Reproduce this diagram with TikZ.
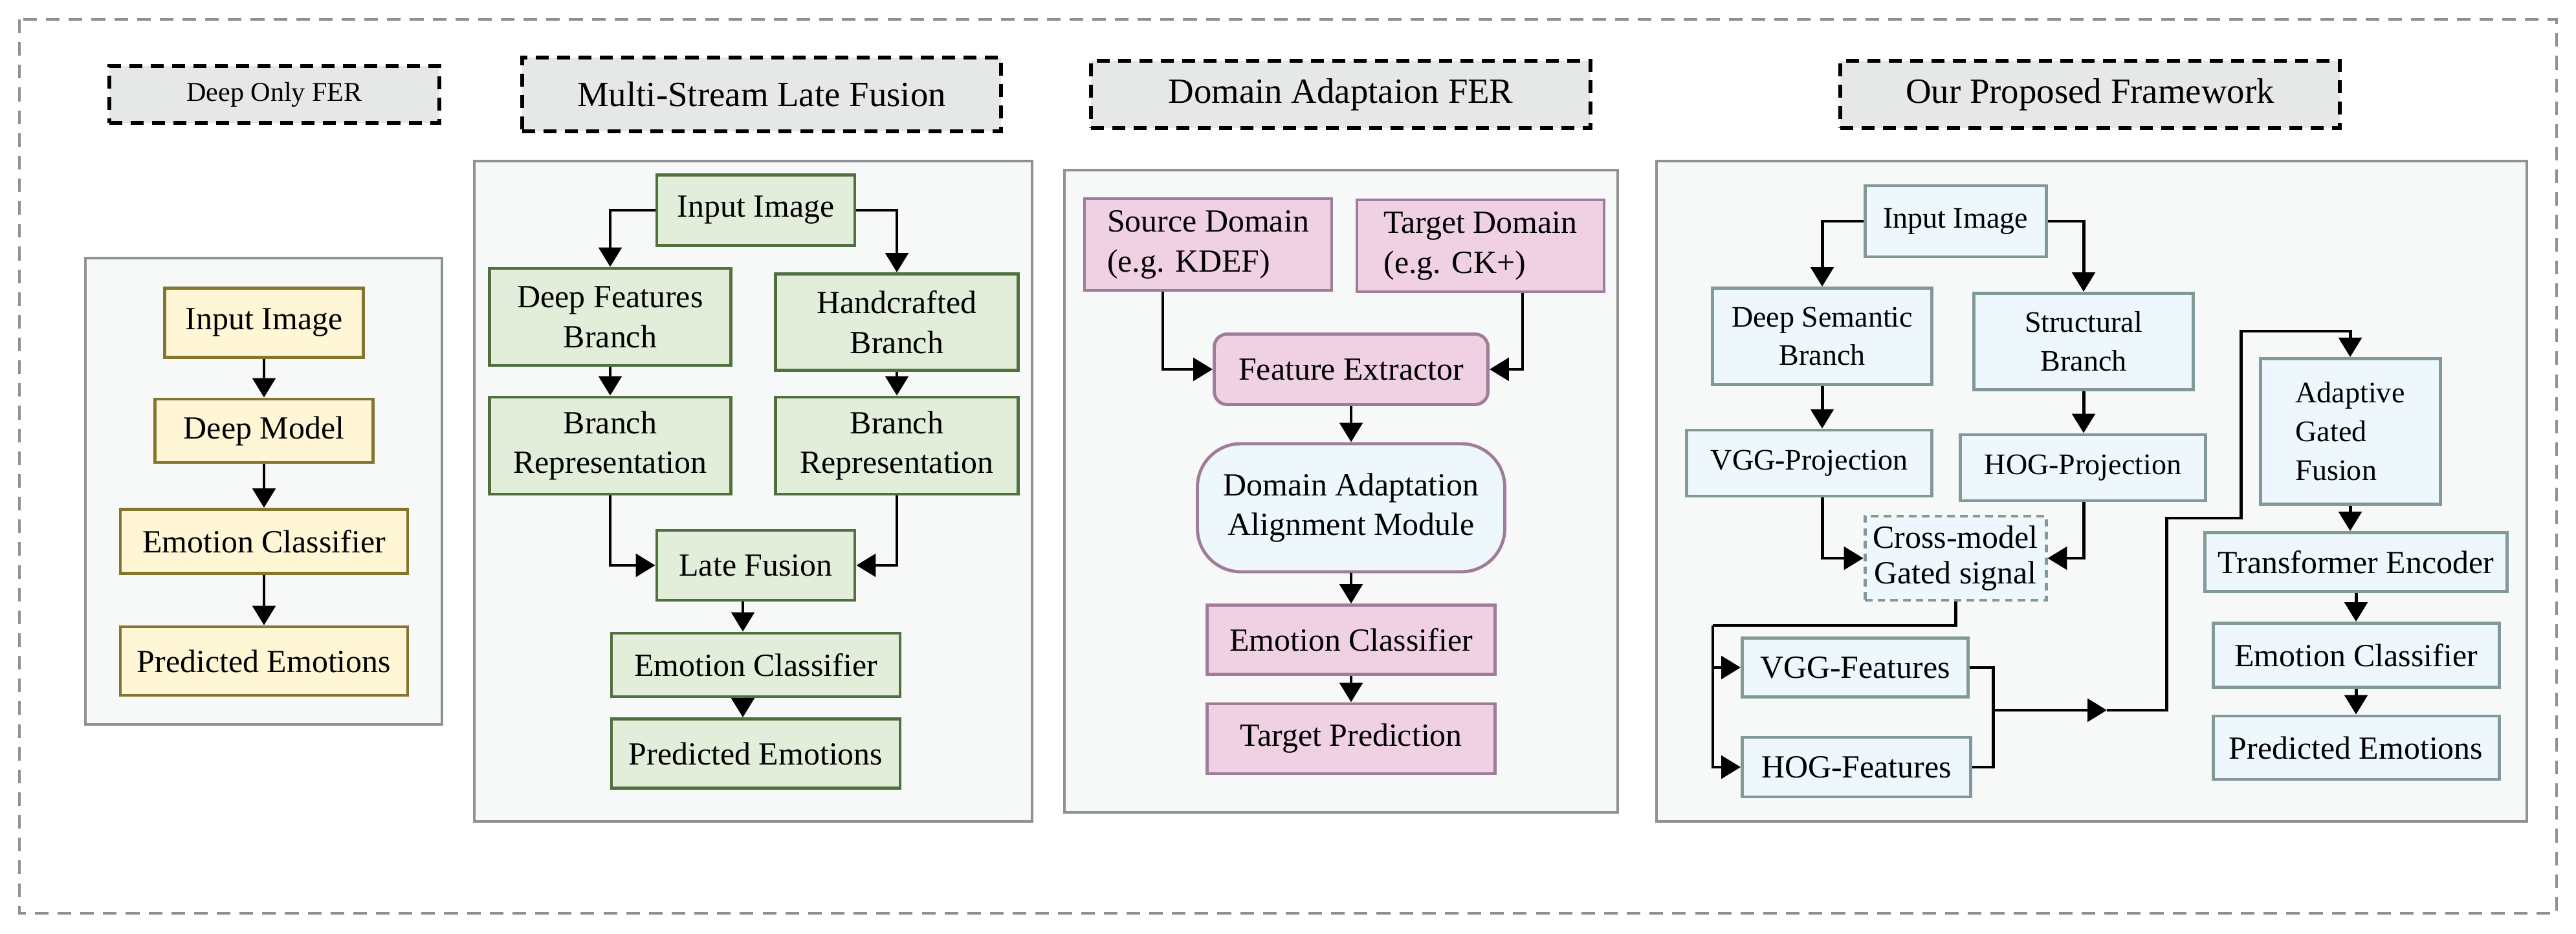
\documentclass[tikz,border=0pt]{standalone}
\usepackage{fontspec}
\setmainfont{Liberation Serif}
\usetikzlibrary{arrows.meta}

\definecolor{outerline}{HTML}{8C8F93}
\definecolor{headfill}{HTML}{E6E7E7}
\definecolor{panelfill}{HTML}{F7F9F8}
\definecolor{panelline}{HTML}{8F9295}
\definecolor{yfill}{HTML}{FFF6D5}
\definecolor{yline}{HTML}{85752F}
\definecolor{gfill}{HTML}{E2EED9}
\definecolor{gline}{HTML}{50713F}
\definecolor{pfill}{HTML}{F0D0E3}
\definecolor{pline}{HTML}{A07C9B}
\definecolor{bfill}{HTML}{EEF7FB}
\definecolor{bline}{HTML}{82999A}

\begin{document}
\begin{tikzpicture}[
  box/.style={draw, line width=1.4pt, inner sep=0pt, align=center,
    font=\fontsize{14.2}{17.6}\selectfont},
  ybox/.style={box, fill=yfill, draw=yline},
  gbox/.style={box, fill=gfill, draw=gline},
  pbox/.style={box, fill=pfill, draw=pline},
  bbox/.style={box, fill=bfill, draw=bline},
  smalltext/.style={font=\fontsize{13.1}{17}\selectfont},
  headbox/.style={draw=black, fill=headfill, line width=1.6pt,
    dash pattern=on 5.7pt off 3.7pt, inner sep=0pt,
    font=\fontsize{15.6}{18}\selectfont},
  panel/.style={draw=panelline, fill=panelfill, line width=1pt},
  wire/.style={line width=1.4pt},
  arr/.style={wire, arrows={-Triangle[length=8.5pt,width=10pt]}}]

\useasboundingbox (0,0) rectangle (39.81,-14.44);
\draw[outerline, line width=1.2pt, dash pattern=on 6pt off 4pt] (0.30,-0.30) rectangle (39.51,-14.12);

% titles
\node[headbox, font=\fontsize{12}{14}\selectfont, minimum width=5.10cm, minimum height=0.88cm] (h1) at (4.24,-1.46) {Deep Only FER};
\node[headbox, minimum width=7.40cm, minimum height=1.14cm] (h2) at (11.77,-1.46) {Multi-Stream Late Fusion};
\node[headbox, minimum width=7.72cm, minimum height=1.04cm] (h3) at (20.72,-1.46) {Domain Adaptaion FER};
\node[headbox, minimum width=7.72cm, minimum height=1.04cm] (h4) at (32.30,-1.46) {Our Proposed Framework};

% panels
\draw[panel] (1.32,-3.99) rectangle (6.83,-11.20);
\draw[panel] (7.33,-2.49) rectangle (15.95,-12.70);
\draw[panel] (16.45,-2.63) rectangle (25.00,-12.56);
\draw[panel] (25.60,-2.49) rectangle (39.05,-12.70);

% deep only
\node[ybox, minimum width=3.07cm, minimum height=1.07cm] (in1) at (4.08,-4.99) {Input Image};
\node[ybox, minimum width=3.37cm, minimum height=0.98cm] (dm1) at (4.08,-6.66) {Deep Model};
\node[ybox, minimum width=4.44cm, minimum height=0.99cm] (ec1) at (4.08,-8.37) {Emotion Classifier};
\node[ybox, minimum width=4.44cm, minimum height=1.06cm] (pe1) at (4.08,-10.22) {Predicted Emotions};
\foreach \a/\b in {in1/dm1,dm1/ec1,ec1/pe1}
  \draw[arr] (\a) -- (\b);

% late fusion
\node[gbox, minimum width=3.06cm, minimum height=1.09cm] (in2) at (11.68,-3.25) {Input Image};
\node[gbox, minimum width=3.73cm, minimum height=1.50cm] (dfb) at (9.43,-4.90) {Deep Features\\Branch};
\node[gbox, minimum width=3.75cm, minimum height=1.49cm] (hcb) at (13.86,-4.98) {Handcrafted\\Branch};
\node[gbox, minimum width=3.73cm, minimum height=1.50cm] (brl) at (9.43,-6.89) {Branch\\Representation};
\node[gbox, minimum width=3.75cm, minimum height=1.50cm] (brr) at (13.86,-6.89) {Branch\\Representation};
\node[gbox, minimum width=3.06cm, minimum height=1.08cm] (lf2) at (11.68,-8.74) {Late Fusion};
\node[gbox, minimum width=4.46cm, minimum height=0.98cm] (ec2) at (11.68,-10.28) {Emotion Classifier};
\node[gbox, minimum width=4.46cm, minimum height=1.07cm] (pe2) at (11.68,-11.65) {Predicted Emotions};
\draw[arr] (in2.west) -| (dfb.north);
\draw[arr] (in2.east) -| (hcb.north);
\draw[arr] (dfb) -- (brl);
\draw[arr] (hcb) -- (brr);
\draw[arr] (brl.south) |- (lf2.west);
\draw[arr] (brr.south) |- (lf2.east);
\draw[arr] ([xshift=-2mm]lf2.south) -- ([xshift=-2mm]ec2.north);
\draw[arr] ([xshift=-2mm]ec2.south) -- ([xshift=-2mm]pe2.north);

% domain adaptation
\node[pbox, align=left, minimum width=3.82cm, minimum height=1.42cm] (src) at (18.67,-3.78) {Source Domain\\(e.g. KDEF)};
\node[pbox, align=left, minimum width=3.82cm, minimum height=1.42cm] (tgt) at (22.88,-3.80) {Target Domain\\(e.g. CK+)};
\node[pbox, rounded corners=0.2cm, minimum width=4.23cm, minimum height=1.09cm] (fe) at (20.88,-5.71) {Feature Extractor};
\node[box, draw=pline, fill=bfill, rounded corners=0.67cm, minimum width=4.75cm, minimum height=1.98cm] (daam) at (20.88,-7.85) {Domain Adaptation\\Alignment Module};
\node[pbox, minimum width=4.45cm, minimum height=1.07cm] (ec3) at (20.88,-9.89) {Emotion Classifier};
\node[pbox, minimum width=4.45cm, minimum height=1.08cm] (tp3) at (20.88,-11.42) {Target Prediction};
\draw[arr] ([xshift=-7mm]src.south) |- (fe.west);
\draw[arr] ([xshift=6.5mm]tgt.south) |- (fe.east);
\foreach \a/\b in {fe/daam,daam/ec3,ec3/tp3}
  \draw[arr] (\a) -- (\b);

% proposed framework
\node[bbox, smalltext, minimum width=2.80cm, minimum height=1.10cm] (in4) at (30.22,-3.42) {Input Image};
\node[bbox, smalltext, minimum width=3.39cm, minimum height=1.49cm] (dsb) at (28.16,-5.20) {Deep Semantic\\Branch};
\node[bbox, smalltext, minimum width=3.39cm, minimum height=1.49cm] (stb) at (32.20,-5.28) {Structural\\Branch};
\node[bbox, smalltext, minimum width=3.79cm, minimum height=1.02cm] (vgp) at (27.96,-7.16) {VGG-Projection};
\node[bbox, smalltext, minimum width=3.79cm, minimum height=1.02cm] (hgp) at (32.19,-7.23) {HOG-Projection};
\node[bbox, font=\fontsize{14.2}{15.6}\selectfont, dash pattern=on 3.3pt off 2.3pt, minimum width=2.80cm, minimum height=1.30cm] (cms) at (30.22,-8.63) {Cross-model\\Gated signal};
\node[bbox, minimum width=3.49cm, minimum height=0.91cm] (vgf) at (28.67,-10.32) {VGG-Features};
\node[bbox, minimum width=3.53cm, minimum height=0.92cm] (hgf) at (28.69,-11.86) {HOG-Features};
\node[bbox, smalltext, align=left, minimum width=2.78cm, minimum height=2.25cm] (agf) at (36.32,-6.67) {Adaptive\\Gated\\Fusion};
\node[bbox, minimum width=4.67cm, minimum height=0.91cm] (te4) at (36.41,-8.69) {Transformer Encoder};
\node[bbox, minimum width=4.42cm, minimum height=0.99cm] (ec4) at (36.41,-10.13) {Emotion Classifier};
\node[bbox, minimum width=4.42cm, minimum height=0.98cm] (pe4) at (36.41,-11.56) {Predicted Emotions};

\coordinate (split) at (26.47,-9.67);
\coordinate (merge) at (30.80,-10.98);
\coordinate (midarr) at (32.56,-10.98);
\coordinate (bend1) at (33.48,-8.01);
\coordinate (bend2) at (34.63,-5.12);

\draw[arr] (in4.west) -| (dsb.north);
\draw[arr] (in4.east) -| (stb.north);
\draw[arr] (dsb.south) -- (dsb.south |- vgp.north);
\draw[arr] (stb.south) -- (stb.south |- hgp.north);
\draw[arr] (dsb.south |- vgp.south) |- (cms.west);
\draw[arr] (stb.south |- hgp.south) |- (cms.east);
\draw[wire] (cms.south) |- (split);
\draw[arr] (split) |- (vgf.west);
\draw[arr] (split) |- (hgf.west);
\draw[wire] (vgf.east) -| (merge) |- (hgf.east);
\draw[arr] (merge) -- (midarr);
\draw[arr] (midarr) -| (bend1) -| (bend2) -| (agf.north);
\foreach \a/\b in {agf/te4,te4/ec4,ec4/pe4}
  \draw[arr] (\a.south) -- (\a.south |- \b.north);

\end{tikzpicture}
\end{document}
